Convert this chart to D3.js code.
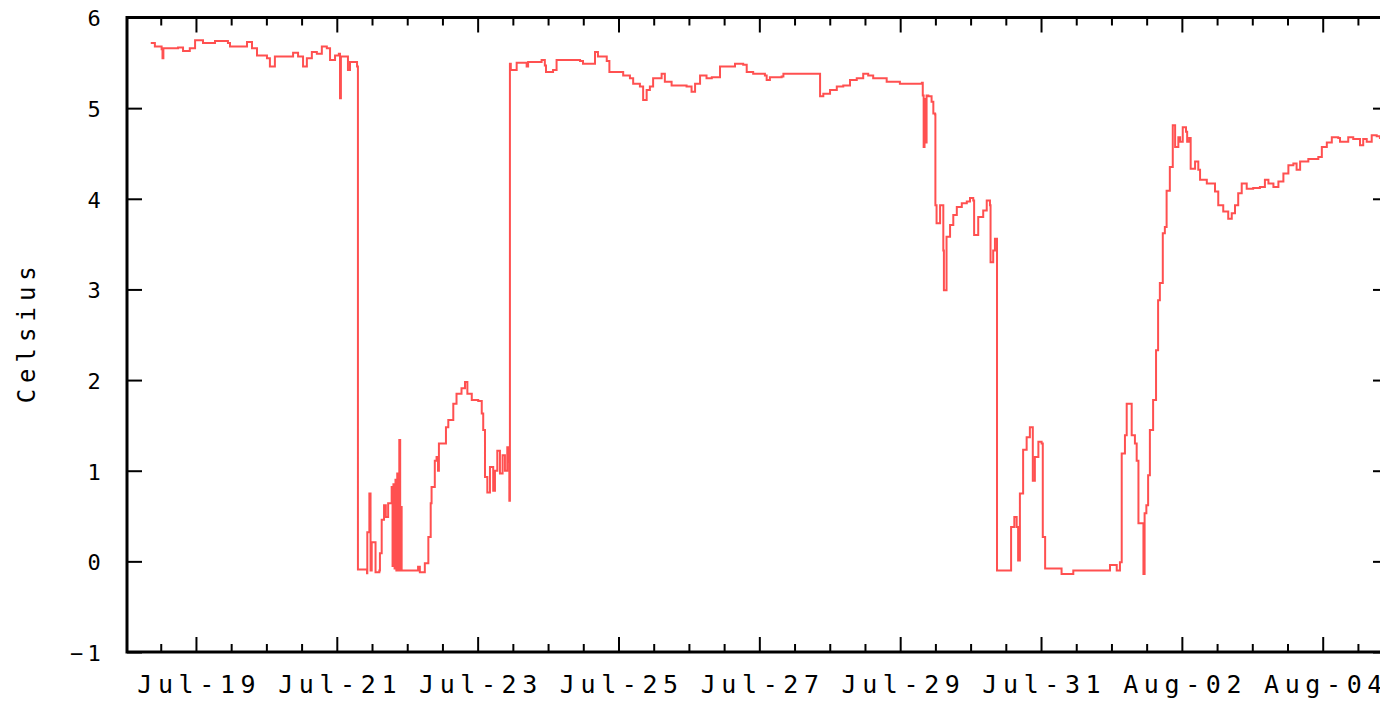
<html>
<head>
  <meta charset="utf-8">
  <style>
    body { margin: 0; background: #fff; }
    .axis text { font-family: "DejaVu Sans Mono", monospace; fill: #000; }
    .axis line { stroke: #000; stroke-width: 2px; }
  </style>
  <script src="https://cdn.jsdelivr.net/npm/d3@7"></script>
</head>
<body>
<div id="chart"></div>
<script>
  // readings: hours after Jul-18 00:00, temperature in Celsius
  var startTime = new Date(2011, 6, 18, 0, 0);

  var hoursFromStart = [
    8.6, 10.0, 12.3, 12.6, 12.9, 17.9, 19.6, 21.9, 23.7, 26.4, 30.5, 34.9, 35.6, 40.0, 41.4, 43.1, 44.8, 48.2, 49.2,
    50.9, 53.6, 57.1, 58.8, 60.5, 61.8, 63.5, 65.2, 66.9, 68.6, 69.7, 71.4, 72.7, 73.1, 73.4, 74.1, 75.8, 76.5, 78.9,
    79.2, 81.6, 82.3, 82.4, 83.1, 83.5, 83.9, 85.0, 85.2, 86.5, 86.7, 87.3, 88.1, 88.7, 89.5, 90.7, 91.0, 91.3, 91.7,
    92.0, 92.3, 92.6, 92.8, 93.3, 93.6, 93.9, 94.1, 99.7, 100.3, 102.0, 103.2, 104.0, 104.3, 105.4, 106.0, 106.5,
    106.8, 109.2, 110.0, 111.7, 112.8, 114.5, 115.7, 116.5, 118.0, 120.2, 121.4, 121.9, 122.5, 123.3, 124.2, 125.3,
    125.9, 126.7, 127.6, 128.5, 129.3, 130.1, 130.5, 130.8,
    131.0, 131.3, 133.3, 136.7, 137.2, 141.8, 142.9, 143.3, 145.7, 146.9, 154.9, 155.9, 159.3, 160.0, 161.0, 164.0,
    164.9, 168.5, 169.6, 171.9, 173.0, 175.3, 176.4, 177.6, 178.7, 179.8, 182.7, 183.8, 186.1, 188.9, 191.2, 192.9,
    194.1, 195.8, 198.0, 199.8, 202.6, 206.0, 207.7, 210.5, 211.7, 213.9, 217.9, 218.5, 219.6, 223.6, 224.2, 235.5,
    236.7, 237.8, 240.1, 242.4, 244.6, 246.9, 249.2, 251.4, 253.1, 254.8, 259.4, 263.9, 271.4, 271.7, 272.0, 272.3,
    272.7, 273.0, 273.6, 274.7, 275.3, 275.9,
    276.0, 276.4, 277.6, 278.7, 278.9, 279.8, 281.0, 282.1, 283.3, 285.0, 286.7, 287.8, 288.9, 289.2, 290.6, 292.3,
    293.5, 294.6, 294.8, 295.7, 296.3, 297.0, 301.4, 301.8, 302.9, 303.7, 304.2, 304.8, 305.9, 307.1, 308.2, 309.2,
    309.9, 311.1, 312.2, 312.6, 313.4, 318.5, 319.0, 322.5, 323.0, 334.4, 335.5, 337.8, 338.9, 339.5, 340.6, 341.2,
    342.3, 342.9, 344.0, 344.6, 345.2, 346.0, 346.9, 347.3, 347.9, 348.5, 349.1, 350.2, 351.2, 351.9, 352.5, 353.5,
    354.2, 354.8, 355.9, 356.9, 357.7, 358.8, 359.4, 360.3, 361.4, 361.8, 362.5, 363.0, 364.5, 365.6, 366.2, 368.5,
    371.3, 372.4, 374.1, 375.8, 377.0, 378.1, 379.2, 380.4, 382.1, 384.3, 386.6, 388.3, 389.5, 391.2, 392.9, 394.6,
    396.3, 398.0, 399.1, 400.3, 403.1, 406.5, 407.7, 409.4, 411.1, 413.3, 413.9, 416.7, 418.4, 420.7, 421.8, 423.0,
    424.7, 426.4, 427.5, 430.2
  ];

  var celsius = [
    5.72, 5.68, 5.65, 5.55, 5.66, 5.67, 5.63, 5.66, 5.75, 5.72, 5.74, 5.72, 5.68, 5.68, 5.73, 5.66, 5.58, 5.55, 5.46,
    5.57, 5.57, 5.61, 5.57, 5.46, 5.55, 5.62, 5.60, 5.68, 5.66, 5.53, 5.58, 5.60, 5.11, 5.57, 5.57, 5.42, 5.51, 5.46,
    -0.09, -0.09, -0.13, 0.32, 0.75, -0.10, 0.21, 0.21, -0.12, -0.10, 0.09, 0.46, 0.62, 0.49, 0.64, 0.82, -0.05, 0.85, -0.08,
    0.90, -0.10, 0.97, -0.10, 1.34, -0.10, 0.60, -0.10, -0.06, -0.12, -0.02, 0.27, 0.64, 0.82, 1.11, 1.15, 1.00,
    1.30, 1.48, 1.56, 1.74, 1.85, 1.91, 1.98, 1.85, 1.78, 1.77, 1.63, 1.45, 0.93, 0.76, 1.04, 0.78,
    1.00, 1.22, 0.97, 1.17, 1.00, 1.26, 1.10, 0.67,
    5.49, 5.42, 5.50, 5.46, 5.51, 5.53, 5.47, 5.40, 5.42, 5.53, 5.52, 5.49, 5.49, 5.62, 5.57, 5.52,
    5.40, 5.40, 5.36, 5.33, 5.27, 5.24, 5.09, 5.20, 5.24, 5.33, 5.38, 5.29, 5.25, 5.25, 5.24, 5.18,
    5.27, 5.36, 5.33, 5.34, 5.46, 5.46, 5.49, 5.48, 5.40, 5.38, 5.36, 5.31, 5.34, 5.35, 5.38, 5.38,
    5.13, 5.16, 5.20, 5.24, 5.25, 5.31, 5.33, 5.38, 5.36, 5.33, 5.29, 5.27, 5.28, 5.14, 4.57, 5.10,
    4.62, 5.14, 5.13, 5.07, 4.94, 4.93,
    3.93, 3.73, 3.93, 3.43, 2.99, 3.58, 3.71, 3.82, 3.91, 3.95, 3.97, 4.01, 3.98, 3.60, 3.80, 3.87,
    3.98, 3.93, 3.30, 3.43, 3.56, -0.10, -0.10, 0.38, 0.49, 0.38, 0.01, 0.75, 1.23, 1.37, 1.48, 0.89,
    1.15, 1.32, 1.30, 0.27, -0.08, -0.08, -0.14, -0.14, -0.10, -0.10, -0.04, -0.10, -0.01, 1.19, 1.39, 1.74,
    1.74, 1.39, 1.30, 1.11, 0.42, 0.42, -0.14, 0.53, 0.62, 0.95, 1.45, 1.78, 2.33, 2.88, 3.07, 3.62,
    3.69, 4.09, 4.35, 4.81, 4.57, 4.68, 4.63, 4.79, 4.74, 4.63, 4.67, 4.33, 4.41, 4.32, 4.21, 4.17,
    4.08, 3.93, 3.86, 3.78, 3.84, 3.93, 4.06, 4.17, 4.11, 4.12, 4.13, 4.21, 4.17, 4.13, 4.19, 4.28,
    4.37, 4.39, 4.32, 4.41, 4.44, 4.46, 4.57, 4.62, 4.68, 4.67, 4.63, 4.68, 4.66, 4.59, 4.66, 4.63,
    4.70, 4.69, 4.67, 4.66
  ];

  var yTicks = [-1, 0, 1, 2, 3, 4, 5, 6];
  var dateTicks = ["07-19", "07-21", "07-23", "07-25", "07-27", "07-29", "07-31", "08-02", "08-04"];
  var yLabel = "Celsius";

  var width = 1380, height = 701;
  // plot box (right edge falls just outside the picture, as in the original)
  var plotLeft = 127, plotRight = 1388, plotTop = 17.5, plotBottom = 652;

  var toDate = function (h) { return new Date(startTime.getTime() + h * 3600e3); };
  var parseTick = d3.timeParse("%Y-%m-%d");

  var data = hoursFromStart.map(function (h, i) { return { t: toDate(h), v: celsius[i] }; });

  var x = d3.scaleTime()
    .domain([toDate(0.5), toDate(430.25)])
    .range([plotLeft, plotRight]);
  var y = d3.scaleLinear().domain([-1, 6]).range([plotBottom, plotTop]);

  var svg = d3.select("#chart").append("svg")
    .attr("width", width).attr("height", height);

  svg.append("clipPath").attr("id", "plot")
    .append("rect").attr("x", plotLeft).attr("y", plotTop)
    .attr("width", plotRight - plotLeft).attr("height", plotBottom - plotTop);

  var majorDates = dateTicks.map(function (d) { return parseTick("2011-" + d); });
  var minorDates = d3.timeHour.every(12).range(x.domain()[0], x.domain()[1])
    .filter(function (d) { return !majorDates.some(function (m) { return +m === +d; }); });

  // minor ticks every 12 hours, top and bottom
  svg.append("g").attr("class", "axis")
    .attr("transform", "translate(0," + plotBottom + ")")
    .call(d3.axisBottom(x).tickValues(minorDates).tickSize(-8).tickFormat(""));
  svg.append("g").attr("class", "axis")
    .attr("transform", "translate(0," + plotTop + ")")
    .call(d3.axisTop(x).tickValues(minorDates).tickSize(-8).tickFormat(""));

  // major date ticks
  var xAxis = svg.append("g").attr("class", "axis")
    .attr("transform", "translate(0," + plotBottom + ")")
    .call(d3.axisBottom(x).tickValues(majorDates).tickSize(-15).tickPadding(23)
      .tickFormat(d3.timeFormat("%b-%d")));
  xAxis.selectAll("text")
    .style("font-size", "25px").style("letter-spacing", "5.6px").attr("dx", 2.8);
  svg.append("g").attr("class", "axis")
    .attr("transform", "translate(0," + plotTop + ")")
    .call(d3.axisTop(x).tickValues(majorDates).tickSize(-15).tickFormat(""));

  var yAxis = svg.append("g").attr("class", "axis")
    .attr("transform", "translate(" + plotLeft + ",0)")
    .call(d3.axisLeft(y).tickValues(yTicks).tickSize(-15).tickPadding(22).tickFormat(d3.format("d")));
  yAxis.selectAll("text")
    .style("font-size", "22px").style("letter-spacing", "4.3px").attr("dy", "0.38em");
  svg.append("g").attr("class", "axis")
    .attr("transform", "translate(" + plotRight + ",0)")
    .call(d3.axisRight(y).tickValues(yTicks).tickSize(-15).tickFormat(""));

  svg.selectAll(".axis .domain").remove();

  // frame
  svg.append("rect")
    .attr("x", plotLeft).attr("y", plotTop)
    .attr("width", plotRight - plotLeft).attr("height", plotBottom - plotTop)
    .attr("fill", "none").attr("stroke", "#000").attr("stroke-width", 3);

  svg.append("text")
    .attr("transform", "translate(35," + ((plotTop + plotBottom) / 2) + ") rotate(-90)")
    .attr("text-anchor", "middle")
    .attr("dx", 3)
    .style("font-family", "DejaVu Sans Mono, monospace")
    .style("font-size", "24px")
    .style("letter-spacing", "6px")
    .text(yLabel);

  var line = d3.line()
    .x(function (d) { return x(d.t); })
    .y(function (d) { return y(d.v); })
    .curve(d3.curveStepAfter);

  svg.append("path")
    .datum(data)
    .attr("clip-path", "url(#plot)")
    .attr("fill", "none")
    .attr("stroke", "#ff5050")
    .attr("stroke-width", 2)
    .attr("d", line);
</script>
</body>
</html>
